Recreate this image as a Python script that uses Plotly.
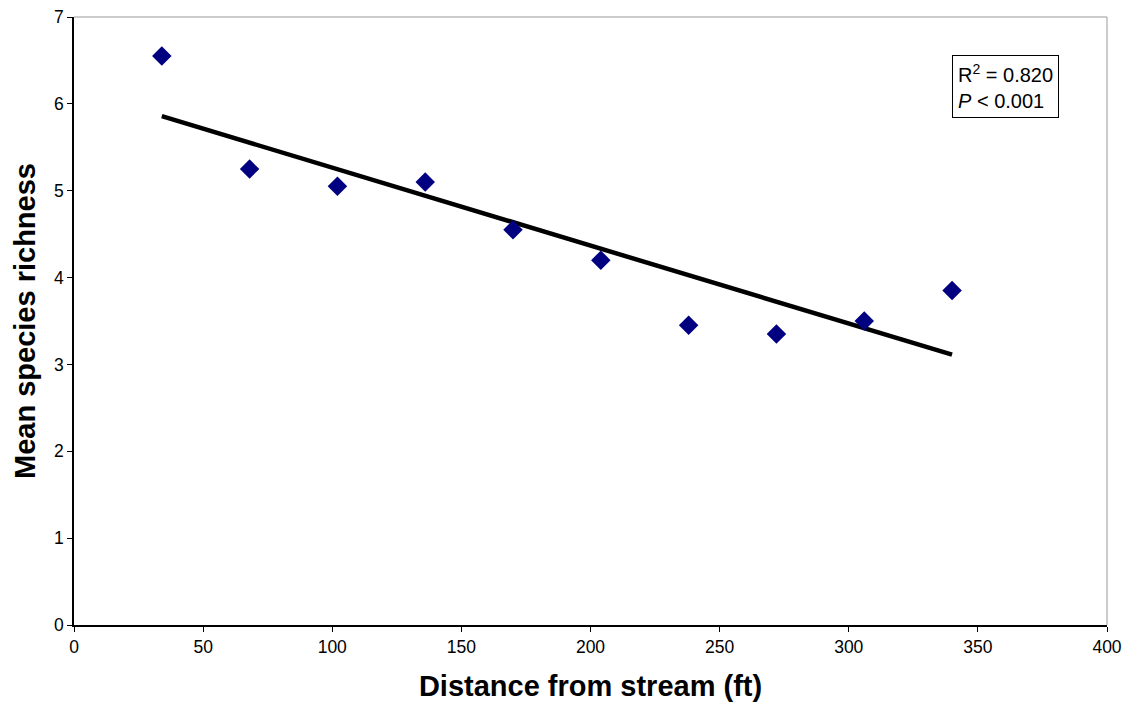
import numpy as np
import plotly.graph_objects as go

distance = [34, 68, 102, 136, 170, 204, 238, 272, 306, 340]
richness = [6.55, 5.25, 5.05, 5.10, 4.55, 4.20, 3.45, 3.35, 3.50, 3.85]
x_ticks = [0, 50, 100, 150, 200, 250, 300, 350, 400]
y_ticks = [0, 1, 2, 3, 4, 5, 6, 7]

slope, intercept = np.polyfit(distance, richness, 1)
fit_x = [distance[0], distance[-1]]
fit_y = [slope * v + intercept for v in fit_x]

FONT = "Liberation Sans, Arial, sans-serif"

fig = go.Figure()
fig.add_trace(go.Scatter(x=fit_x, y=fit_y, mode="lines",
                         line=dict(color="black", width=4.5), hoverinfo="skip"))
fig.add_trace(go.Scatter(x=distance, y=richness, mode="markers",
                         marker=dict(symbol="diamond", size=15, color="#000080",
                                     line=dict(width=0))))

fig.update_layout(
    width=1128, height=709,
    margin=dict(l=74, r=21, t=17, b=84, autoexpand=False),
    paper_bgcolor="white", plot_bgcolor="white",
    showlegend=False,
    font=dict(family=FONT, color="black", size=17.5),
    xaxis=dict(range=[0, 400], tickvals=x_ticks, showgrid=False, zeroline=False,
               showline=True, linecolor="black", linewidth=1.5, automargin=False,
               ticks="outside", ticklen=5, tickcolor="black",
               tickfont=dict(size=17.5),
               title=dict(text="Distance from stream (ft)",
                          font=dict(size=29, family=FONT, weight="bold"), standoff=20)),
    yaxis=dict(range=[0, 7], tickvals=y_ticks, showgrid=False, zeroline=False,
               showline=True, linecolor="black", linewidth=1.5, automargin=False,
               ticks="outside", ticklen=5, tickcolor="black",
               tickfont=dict(size=17.5),
               title=dict(text="Mean species richness",
                          font=dict(size=29, family=FONT, weight="bold"), standoff=10)),
    shapes=[
        dict(type="line", xref="paper", yref="paper", x0=0, x1=1, y0=1, y1=1,
             line=dict(color="#999999", width=1)),
        dict(type="line", xref="paper", yref="paper", x0=1, x1=1, y0=0, y1=1,
             line=dict(color="#999999", width=1)),
    ],
    annotations=[
        dict(xref="paper", yref="paper", x=0.850, y=0.9375, xanchor="left", yanchor="top",
             text="R<sup>2</sup> = 0.820<br><i>P</i> < 0.001", showarrow=False,
             align="left", font=dict(size=20, family=FONT, color="black"),
             bordercolor="black", borderwidth=1, borderpad=5, bgcolor="white"),
    ],
)

fig.write_html("out.html", config={"displayModeBar": False},
               post_script="document.body.style.margin='0';")
